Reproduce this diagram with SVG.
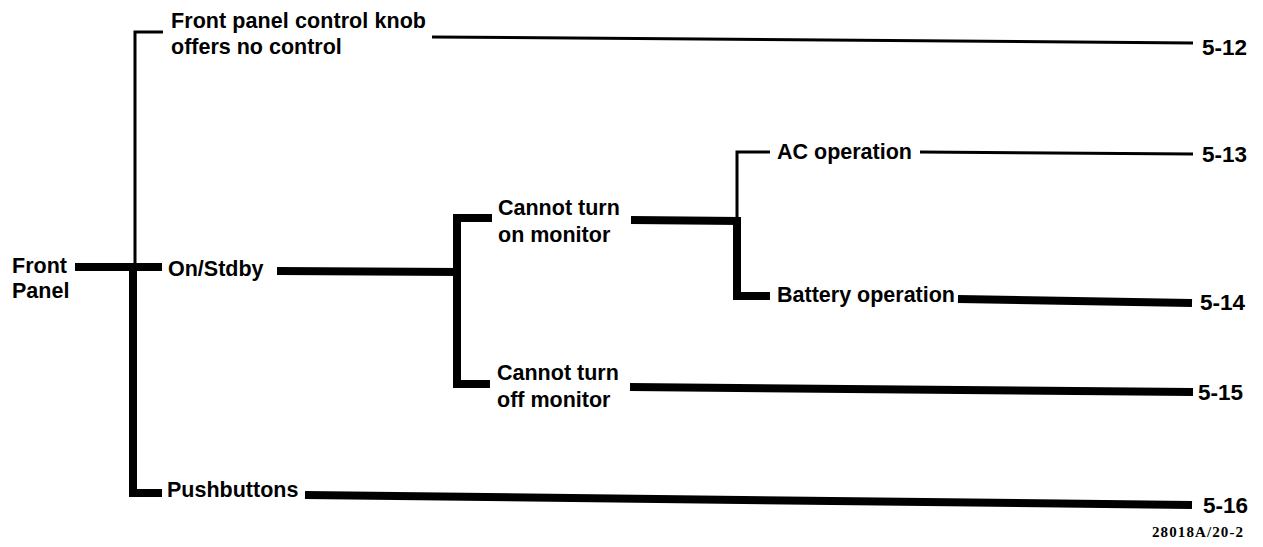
<svg xmlns="http://www.w3.org/2000/svg" width="1263" height="547" viewBox="0 0 1263 547">
<style>
  text { font-family: "Liberation Sans", Arial, sans-serif; font-weight: bold; font-size: 21.5px; fill: #000; }
  .num { font-size: 22.5px; }
  .code { font-family: "Liberation Serif", "Times New Roman", serif; font-size: 15px; }
  .thin { stroke: #000; stroke-width: 3; fill: none; }
  .thick { stroke: #000; stroke-width: 8; fill: none; }
</style>
<rect width="1263" height="547" fill="#fff"/>
<g id="connectors">
  <polyline class="thin" points="163,32 135,32 135,268"/>
  <line class="thick" x1="75" y1="267" x2="162" y2="267"/>
  <polyline class="thick" points="133,267 133,493 162,493"/>
  <line class="thin" x1="432" y1="37" x2="1193" y2="43"/>
  <line class="thick" x1="277" y1="271" x2="461" y2="272"/>
  <polyline class="thick" points="492,218 457,218 457,384 490,384"/>
  <line class="thick" x1="631" y1="220" x2="741" y2="221"/>
  <polyline class="thin" points="770,152 737,152 737,218"/>
  <polyline class="thick" points="737,217 737,296 770,296"/>
  <line class="thin" x1="920" y1="152" x2="1193" y2="154"/>
  <line class="thick" x1="958" y1="299" x2="1192" y2="303"/>
  <line class="thick" x1="630" y1="387" x2="1193" y2="392"/>
  <line class="thick" x1="305" y1="495" x2="1192" y2="505"/>
</g>
<g id="node-front-panel">
  <text x="12" y="273">Front</text>
  <text x="12" y="298">Panel</text>
</g>
<g id="node-knob">
  <text x="171" y="28" textLength="255">Front panel control knob</text>
  <text x="171" y="54">offers no control</text>
</g>
<g id="node-onstdby">
  <text x="168" y="276">On/Stdby</text>
</g>
<g id="node-pushbuttons">
  <text x="167" y="497">Pushbuttons</text>
</g>
<g id="node-cannot-on">
  <text x="498" y="215">Cannot turn</text>
  <text x="498" y="242">on monitor</text>
</g>
<g id="node-cannot-off">
  <text x="497" y="380">Cannot turn</text>
  <text x="497" y="407">off monitor</text>
</g>
<g id="node-ac">
  <text x="777" y="159">AC operation</text>
</g>
<g id="node-battery">
  <text x="777" y="302">Battery operation</text>
</g>
<g id="ref-5-12"><text class="num" x="1202" y="55">5-12</text></g>
<g id="ref-5-13"><text class="num" x="1202" y="162">5-13</text></g>
<g id="ref-5-14"><text class="num" x="1200" y="310">5-14</text></g>
<g id="ref-5-15"><text class="num" x="1198" y="400">5-15</text></g>
<g id="ref-5-16"><text class="num" x="1203" y="513">5-16</text></g>
<g id="figure-code"><text class="code" x="1152" y="537" textLength="91">28018A/20-2</text></g>
</svg>
